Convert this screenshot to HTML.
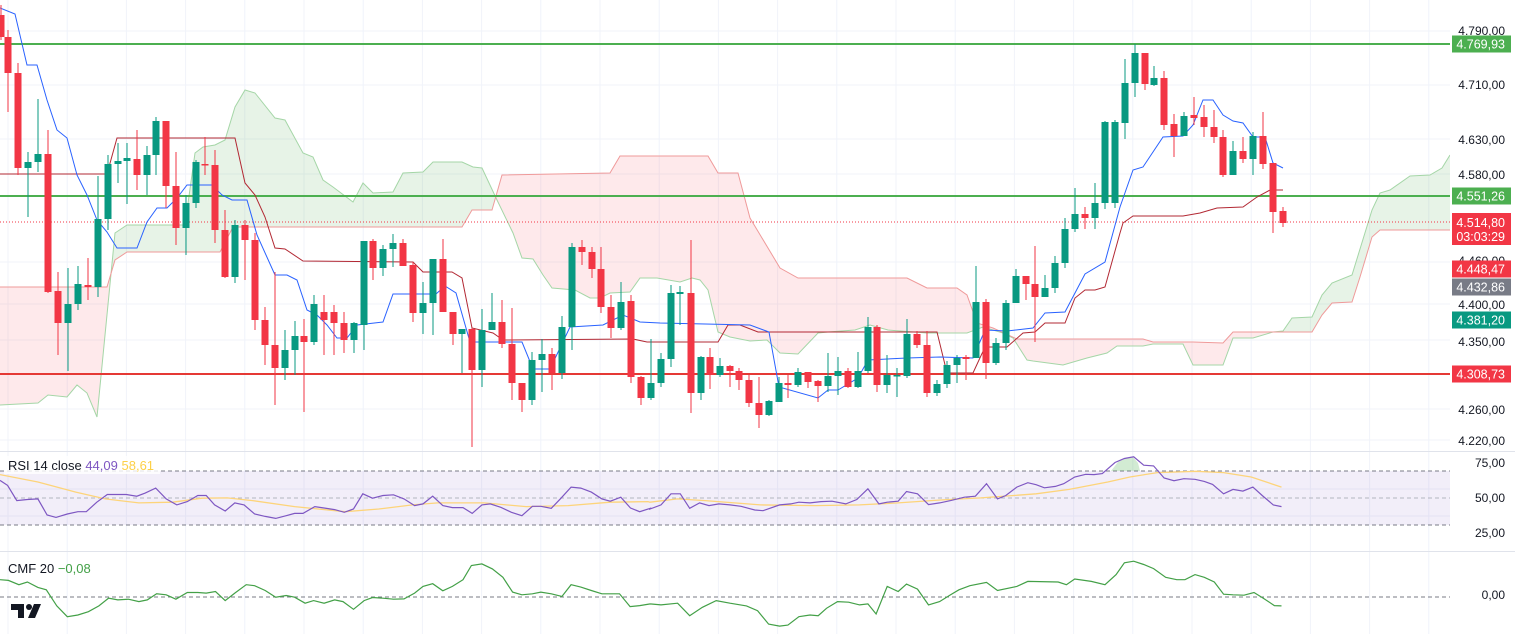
<!DOCTYPE html>
<html><head><meta charset="utf-8"><style>
html,body{margin:0;padding:0;background:#fff;width:1515px;height:634px;overflow:hidden;font-family:"Liberation Sans",sans-serif}
svg text{font-family:"Liberation Sans",sans-serif}
</style></head><body>
<svg id="s" width="1515" height="634" xmlns="http://www.w3.org/2000/svg"></svg>
<script>
const S=document.getElementById('s');let h='';
h+='<defs><clipPath id="cp"><rect x="0" y="0" width="1450" height="634"/></clipPath>';
const A=[[0,405],[38,403],[48,395],[67,397],[77,385],[87,393],[97,417],[115,233],[127,225],[185,225],[195,153],[203,147],[215,145],[225,140],[235,107],[245,90],[255,93],[275,118],[285,120],[303,153],[313,157],[323,180],[333,187],[353,202],[363,183],[373,193],[393,192],[403,173],[423,172],[433,162],[462,162],[473,167],[482,168],[497,200],[513,233],[522,258],[533,259],[543,275],[552,288],[575,290],[590,298],[600,298],[610,293],[630,292],[640,278],[657,278],[680,282],[692,278],[700,280],[708,290],[718,332],[730,337],[750,341],[767,340],[780,353],[798,354],[818,333],[828,332],[855,330],[870,325],[888,330],[927,333],[967,333],[983,327],[1003,333],[1013,338],[1027,360],[1033,361],[1063,365],[1087,358],[1107,353],[1117,346],[1143,346],[1153,344],[1183,344],[1193,365],[1223,365],[1233,338],[1253,338],[1273,332],[1283,331],[1292,318],[1312,317],[1322,295],[1332,283],[1352,275],[1372,210],[1380,193],[1390,190],[1410,176],[1430,175],[1442,168],[1450,155]];
const B=[[0,287],[107,287],[115,260],[127,252],[220,252],[233,227],[462,227],[472,210],[492,210],[502,175],[610,173],[620,156],[708,156],[718,173],[738,173],[750,218],[780,268],[798,278],[907,278],[927,288],[957,288],[967,295],[977,323],[993,328],[1017,339],[1143,339],[1153,342],[1193,342],[1223,343],[1233,332],[1312,332],[1322,315],[1332,303],[1352,302],[1360,277],[1372,237],[1380,230],[1450,230]];
const P=a=>a.map(p=>p[0]+','+p[1]).join(' ');
h+='<clipPath id="belowA"><polygon points="'+P(A)+' 1450,634 0,634"/></clipPath>';
h+='<clipPath id="belowB"><polygon points="'+P(B)+' 1450,634 0,634"/></clipPath></defs>';
// grid
let g='';
[31,85,139,174,262,304,340,409,440].forEach(y=>g+=`<line x1="0" x2="1450" y1="${y}" y2="${y}" stroke="#f0f3fa"/>`);
[489,516].forEach(y=>g+=`<line x1="0" x2="1450" y1="${y}" y2="${y}" stroke="#f0f3fa"/>`);
for(let x=8;x<1450;x+=59.2)g+=`<line x1="${x}" x2="${x}" y1="0" y2="634" stroke="#f0f3fa"/>`;
h+=g;
// cloud
h+='<g clip-path="url(#cp)">';
h+=`<polygon points="${P(B)} 1450,0 0,0" fill="rgba(67,160,71,0.13)" clip-path="url(#belowA)"/>`;
h+=`<polygon points="${P(A)} 1450,0 0,0" fill="rgba(242,54,69,0.11)" clip-path="url(#belowB)"/>`;
h+=`<polyline points="${P(A)}" fill="none" stroke="#a5d6a7" stroke-width="1"/>`;
h+=`<polyline points="${P(B)}" fill="none" stroke="#ef9a9a" stroke-width="1"/>`;
// horizontal levels
h+='<line x1="0" x2="1450" y1="44" y2="44" stroke="#4caf50" stroke-width="2"/>';
h+='<line x1="0" x2="1450" y1="196" y2="196" stroke="#4caf50" stroke-width="2"/>';
h+='<line x1="0" x2="1450" y1="374" y2="374" stroke="#e53935" stroke-width="2"/>';
h+='<line x1="0" x2="1450" y1="222" y2="222" stroke="#f23645" stroke-width="1" stroke-dasharray="1,2"/>';
const K=[[0,174],[107,174],[117,138],[235,138],[245,183],[255,195],[265,217],[275,248],[285,249],[303,261],[413,262],[423,272],[452,272],[462,278],[472,328],[493,333],[503,340],[633,339],[647,342],[718,342],[728,325],[740,325],[758,332],[937,332],[947,373],[973,373],[985,347],[1007,347],[1023,333],[1035,332],[1045,323],[1065,323],[1075,298],[1085,290],[1095,290],[1105,287],[1120,233],[1123,223],[1133,216],[1183,216],[1200,213],[1217,208],[1243,207],[1257,197],[1270,190],[1283,190]];
const T=[[0,8],[15,14],[27,65],[37,65],[47,100],[57,130],[67,138],[77,175],[87,195],[97,220],[107,232],[117,248],[137,248],[147,222],[157,208],[167,208],[177,198],[187,185],[212,185],[222,195],[232,200],[247,200],[257,235],[275,275],[287,275],[297,280],[307,310],[317,315],[327,325],[337,338],[347,338],[357,325],[383,322],[393,294],[436,294],[445,286],[456,293],[470,342],[522,342],[533,369],[550,369],[570,327],[603,325],[623,315],[640,322],[660,323],[750,325],[769,332],[779,387],[818,398],[828,390],[838,390],[858,378],[868,360],[907,358],[940,357],[973,358],[985,330],[1007,331],[1033,328],[1045,313],[1065,312],[1085,274],[1105,262],[1120,207],[1133,170],[1143,167],[1163,137],[1183,136],[1193,125],[1203,100],[1213,100],[1223,115],[1233,121],[1243,123],[1253,137],[1265,137],[1273,163],[1283,168]];
h+=`<polyline points="${P(K)}" fill="none" stroke="#b22833" stroke-width="1"/>`;
h+=`<polyline points="${P(T)}" fill="none" stroke="#2962ff" stroke-width="1"/>`;
const C=[[1,15,37,5,40,'r'],[8,37,73,30,112,'r'],[18,73,168,63,175,'r'],[28,162,168,152,217,'g'],[38,154,162,99,172,'g'],[48,154,292,130,293,'r'],[58,291,323,272,355,'r'],[68,304,323,268,371,'g'],[78,284,304,266,310,'g'],[88,285,287,258,300,'r'],[98,219,287,176,297,'g'],[108,164,219,155,230,'g'],[118,161,164,143,183,'g'],[127,158,161,143,204,'g'],[137,159,175,130,190,'r'],[147,155,175,146,195,'g'],[156,121,155,117,175,'g'],[166,121,186,121,208,'r'],[176,186,228,152,245,'r'],[186,203,228,195,255,'g'],[196,162,203,160,208,'g'],[205,164,165,137,175,'r'],[215,165,230,150,243,'r'],[225,230,277,210,278,'r'],[235,225,277,220,283,'g'],[245,225,240,220,280,'r'],[255,240,320,233,330,'r'],[265,320,345,307,365,'r'],[275,345,368,272,405,'r'],[285,350,368,330,380,'g'],[295,336,350,321,375,'g'],[304,336,342,319,412,'r'],[314,304,342,295,345,'g'],[324,312,320,295,355,'r'],[334,312,323,305,355,'r'],[344,323,340,312,353,'r'],[354,323,340,322,353,'g'],[364,241,325,241,350,'g'],[373,241,268,239,280,'r'],
[383,249,268,245,276,'g'],[393,243,249,234,267,'g'],[403,243,266,239,266,'r'],[413,265,313,262,322,'r'],[423,303,313,282,334,'g'],[433,259,303,259,335,'g'],[443,259,312,239,312,'r'],[453,312,334,312,345,'r'],[462,329,334,329,373,'g'],[472,329,370,328,447,'r'],[482,330,370,309,387,'g'],[492,322,330,293,330,'g'],[502,322,344,300,348,'r'],[512,344,383,308,400,'r'],[522,383,400,383,412,'r'],[532,360,400,352,405,'g'],[542,354,360,339,392,'g'],[552,354,373,348,390,'r'],[562,327,373,316,379,'g'],[572,247,327,243,350,'g'],[582,247,252,240,265,'r'],[592,252,269,247,278,'r'],[601,269,307,247,313,'r'],[611,307,328,295,338,'r'],[621,302,328,282,330,'g'],[631,301,377,295,383,'r'],[641,377,398,376,405,'r'],[651,383,398,339,400,'g'],[661,359,383,353,387,'g'],[671,293,359,285,367,'g'],[680,292,294,286,325,'g'],[691,293,393,240,413,'r'],[701,357,393,356,400,'g'],[710,357,375,348,389,'r'],[720,366,375,358,377,'g'],[730,366,371,365,387,'r'],[739,371,380,368,390,'r'],
[749,380,403,375,407,'r'],[759,403,415,377,428,'r'],[769,401,415,400,416,'g'],[779,383,402,377,402,'g'],[788,383,385,375,398,'r'],[798,372,385,368,387,'g'],[808,372,382,372,388,'r'],[818,381,386,380,402,'r'],[828,376,386,353,392,'g'],[838,371,376,357,395,'g'],[848,371,387,368,388,'r'],[858,371,387,352,388,'g'],[868,327,371,317,373,'g'],[877,327,385,325,392,'r'],[887,375,385,355,393,'g'],[897,375,376,368,397,'g'],[907,334,376,319,378,'g'],[917,334,345,331,348,'r'],[927,345,393,331,397,'r'],[937,384,393,380,396,'g'],[947,365,384,361,388,'g'],[957,358,365,355,383,'g'],[966,357,359,355,380,'r'],[976,302,358,266,358,'g'],[986,302,363,299,379,'r'],[996,343,363,338,365,'g'],[1006,303,343,300,350,'g'],[1016,276,303,269,303,'g'],[1026,276,284,276,300,'r'],[1035,284,297,246,342,'r'],[1045,288,297,275,293,'g'],[1055,263,288,256,293,'g'],[1065,229,263,218,268,'g'],[1075,214,229,188,232,'g'],[1085,214,218,207,229,'r'],[1095,203,218,183,229,'g'],[1105,122,203,121,209,'g'],
[1115,122,203,120,208,'g'],[1125,83,123,59,139,'g'],[1135,53,83,44,97,'g'],[1145,53,84,53,90,'r'],[1154,78,85,66,86,'g'],[1164,78,125,71,130,'r'],[1174,124,136,114,157,'r'],[1184,116,136,112,136,'g'],[1194,115,118,97,125,'r'],[1204,117,127,105,137,'r'],[1214,127,137,110,143,'r'],[1223,137,175,130,177,'r'],[1233,151,175,141,175,'g'],[1243,151,159,137,163,'r'],[1253,136,159,132,175,'g'],[1263,136,164,112,169,'r'],[1273,163,212,163,233,'r'],[1283,211,223,207,227,'r']];
C.forEach(c=>{const col=c[5]=='g'?'#089981':'#f23645';h+=`<line x1="${c[0]}" x2="${c[0]}" y1="${c[3]}" y2="${c[4]}" stroke="${col}" stroke-width="1"/><rect x="${c[0]-3.5}" y="${c[1]}" width="7" height="${Math.max(1.5,c[2]-c[1])}" fill="${col}"/>`;});
h+='</g>';
// panel separators
h+='<line x1="0" x2="1515" y1="451.5" y2="451.5" stroke="#e0e3eb"/><line x1="0" x2="1515" y1="551.5" y2="551.5" stroke="#e0e3eb"/>';
// RSI
h+='<rect x="0" y="471" width="1450" height="54" fill="rgba(126,87,194,0.1)"/>';
h+='<line x1="0" x2="1450" y1="471" y2="471" stroke="#787b86" stroke-dasharray="4,3"/><line x1="0" x2="1450" y1="525" y2="525" stroke="#787b86" stroke-dasharray="4,3"/><line x1="0" x2="1450" y1="498" y2="498" stroke="#b2b5be" stroke-dasharray="4,3"/>';
const tr5=(a)=>a.map(p=>[p[0]/2.376,445+p[1]/2.97]);const tr6=(a)=>a.map(p=>[650+p[0]/1.813,445+p[1]/2.97]);
const f=a=>a.map(p=>p[0].toFixed(1)+','+p[1].toFixed(1)).join(' ');
const R5=[[0,105],[18,120],[40,165],[65,162],[90,160],[112,208],[133,215],[160,205],[185,198],[205,198],[230,170],[255,147],[300,147],[325,152],[345,143],[370,128],[395,160],[420,178],[445,168],[470,150],[490,150],[510,178],[535,196],[558,172],[580,178],[605,205],[630,212],[655,218],[680,210],[700,203],[720,203],[748,183],[770,187],[795,192],[818,200],[840,190],[862,145],[885,158],[910,150],[935,148],[960,160],[985,180],[1005,175],[1028,152],[1052,180],[1075,186],[1100,186],[1122,203],[1145,178],[1165,175],[1190,185],[1215,200],[1240,210],[1265,182],[1285,182],[1310,188],[1333,158],[1357,125],[1380,128],[1405,140],[1430,160],[1450,167],[1475,155],[1498,187],[1520,198],[1545,188]];
const R6=[[0,190],[20,178],[38,145],[55,145],[72,188],[90,172],[107,180],[125,175],[145,178],[165,182],[190,193],[205,195],[235,178],[255,175],[270,170],[290,172],[310,168],[330,167],[355,175],[375,162],[395,130],[415,175],[430,170],[450,167],[465,138],[485,145],[505,177],[525,172],[545,165],[570,155],[590,152],[610,115],[630,160],[645,150],[665,125],[685,112],[700,118],[715,127],[735,123],[750,115],[770,95],[790,87],[805,88],[820,85],[843,52],[860,40],[877,35],[895,60],[913,62],[932,98],[950,106],[968,100],[988,102],[1005,108],[1020,117],[1040,145],[1057,132],[1075,137],[1093,125],[1110,150],[1130,178],[1145,183]];
const Y5=[[0,88],[90,110],[180,140],[250,160],[330,172],[410,170],[480,158],[540,157],[600,165],[700,183],[820,198],[900,190],[980,178],[1040,172],[1150,172],[1250,183],[1350,180],[1450,170],[1540,168]];
const Y6=[[0,170],[50,160],[100,165],[200,178],[300,180],[380,178],[450,172],[530,163],[600,157],[700,145],[760,132],[830,110],[870,95],[920,82],[990,78],[1040,82],[1090,95],[1145,125]];
h+=`<polygon points="1111,471 1118,462 1126,458 1133,457 1138,463 1140,471" fill="rgba(76,175,80,0.25)"/>`;
h+=`<polyline points="${f(tr5(Y5).concat(tr6(Y6)))}" fill="none" stroke="#fdd47a" stroke-width="1.3"/>`;
h+=`<polyline points="${f(tr5(R5).concat(tr6(R6)))}" fill="none" stroke="#7e57c2" stroke-width="1.2"/>`;
// CMF
h+='<line x1="0" x2="1450" y1="597" y2="597" stroke="#787b86" stroke-dasharray="4,3"/>';
const M5=[[0,400],[20,402],[45,415],[65,407],[90,423],[110,430],[135,478],[160,510],[185,505],[210,495],[235,478],[258,455],[280,460],[305,458],[330,465],[350,460],[372,442],[395,445],[418,458],[445,438],[470,438],[490,440],[512,435],[535,462],[558,440],[585,415],[605,418],[630,432],[655,452],[680,447],[700,452],[725,470],[745,462],[770,470],[795,460],[815,465],[840,488],[865,462],[885,453],[910,455],[935,458],[960,457],[985,440],[1005,420],[1028,412],[1052,433],[1075,420],[1100,400],[1120,358],[1145,353],[1170,368],[1195,393],[1218,437],[1240,445],[1265,442],[1285,437],[1310,442],[1335,450],[1357,415],[1380,422],[1405,432],[1430,442],[1452,442],[1472,442],[1497,480],[1520,477],[1545,472]];
const M6=[[0,472],[20,475],[50,470],[72,507],[95,482],[120,462],[145,470],[175,478],[195,492],[215,532],[235,538],[250,535],[270,510],[290,505],[305,507],[320,485],[340,465],[360,467],[380,475],[395,472],[410,502],[430,420],[450,435],[465,413],[485,428],[505,475],[525,465],[545,445],[560,430],[580,418],[610,408],[630,432],[665,420],[685,405],[740,407],[755,415],[770,398],[800,405],[825,415],[845,385],[860,350],[877,345],[895,355],[913,367],[935,393],[955,400],[970,400],[988,385],[1005,393],[1023,407],[1040,443],[1057,445],[1077,446],[1095,438],[1112,455],[1132,477],[1145,478]];
h+=`<polyline points="${f(tr5(M5).concat(tr6(M6)))}" fill="none" stroke="#43a047" stroke-width="1.2"/>`;
// legends
h+='<rect x="4" y="456" width="156" height="18" fill="rgba(255,255,255,0.8)"/>';
h+='<text x="8" y="470" font-size="13" fill="#131722">RSI 14 close <tspan fill="#7e57c2">44,09</tspan> <tspan fill="#fdd047">58,61</tspan></text>';
h+='<text x="8" y="573" font-size="13" fill="#131722">CMF 20 <tspan fill="#43a047">−0,08</tspan></text>';
// TV logo
h+='<path d="M11 604 H24 V618 H18 V610 H11 Z" fill="#131722"/><circle cx="29" cy="607" r="3" fill="#131722"/><path d="M34 604 H41 L35 618 H28 Z" fill="#131722"/>';
// axis labels
const L=[['4.790,00',31],['4.710,00',85],['4.630,00',140],['4.580,00',175],['4.460,00',261],['4.400,00',305],['4.350,00',342],['4.260,00',410],['4.220,00',441],['75,00',463],['50,00',498],['25,00',533],['0,00',595]];
L.forEach(l=>h+=`<text x="1505" y="${l[1]+4}" font-size="12" fill="#131722" text-anchor="end">${l[0]}</text>`);
const Bx=[['4.769,93',44,'#4caf50'],['4.551,26',196,'#4caf50'],['4.448,47',269,'#f23645'],['4.432,86',287,'#787b86'],['4.381,20',320,'#089981'],['4.308,73',374,'#f23645']];
Bx.forEach(b=>h+=`<rect x="1452" y="${b[1]-8.5}" width="59" height="17" fill="${b[2]}"/><text x="1505" y="${b[1]+4.5}" font-size="12.5" fill="#fff" text-anchor="end">${b[0]}</text>`);
h+='<rect x="1452" y="213" width="59" height="32" fill="#f23645"/><text x="1505" y="227" font-size="12.5" fill="#fff" text-anchor="end">4.514,80</text><text x="1505" y="241" font-size="12.5" fill="#fff" text-anchor="end">03:03:29</text>';
S.innerHTML=h;
</script>
</body></html>
